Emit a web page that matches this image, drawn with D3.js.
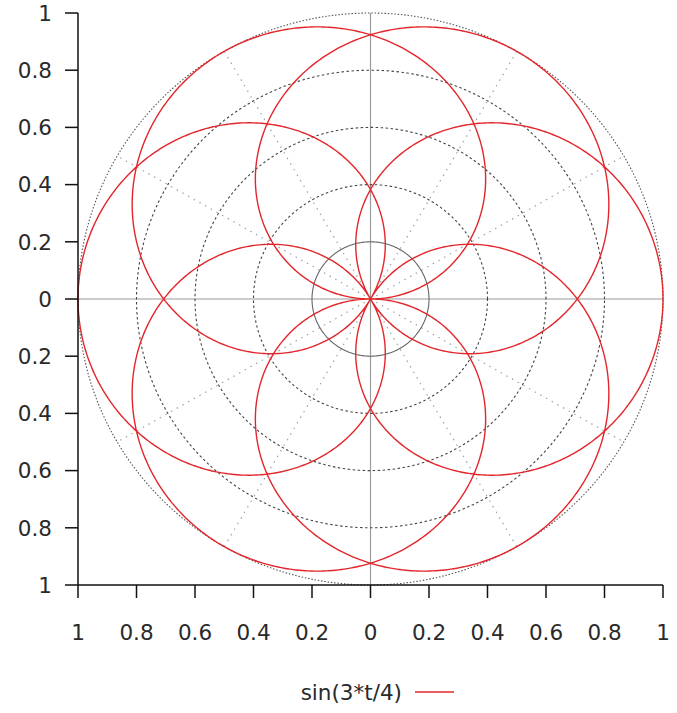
<!DOCTYPE html>
<html>
<head>
<meta charset="utf-8">
<script src="https://cdn.jsdelivr.net/npm/d3@7"></script>
<style>
  html, body { margin: 0; padding: 0; background: #fff; }
  svg { display: block; }
  text { font-family: "DejaVu Sans", Verdana, sans-serif; fill: #2a2a2a; }
</style>
</head>
<body>
<svg id="chart" width="677" height="713"></svg>
<script>
// ---- data ----
const axisTicks = [-1, -0.8, -0.6, -0.4, -0.2, 0, 0.2, 0.4, 0.6, 0.8, 1];
const tickLabels = ["1", "0.8", "0.6", "0.4", "0.2", "0", "0.2", "0.4", "0.6", "0.8", "1"];
const gridRadii = [0.2, 0.4, 0.6, 0.8, 1.0];
const gridAngles = [30, 60, 120, 150, 210, 240, 300, 330];
const seriesName = "sin(3*t/4)";
const seriesFactor = [3, 4];          // r = sin(3*t/4)
const seriesTRange = [0, 8 * Math.PI]; // full period of the rose
const seriesSamples = 2400;

// ---- chart ----
const svg = d3.select("#chart");
const x = d3.scaleLinear().domain([-1, 1]).range([78, 663]);
const y = d3.scaleLinear().domain([-1, 1]).range([585, 13]);
const fontSize = 21.5;

const polar = (r, a) => [x(r * Math.cos(a)), y(r * Math.sin(a))];
const line = d3.line().x(d => d[0]).y(d => d[1]);

// center axis lines
svg.append("line").attr("x1", x(-1)).attr("x2", x(1)).attr("y1", y(0)).attr("y2", y(0))
  .attr("stroke", "#9a9a9a").attr("stroke-width", 1.2);
svg.append("line").attr("x1", x(0)).attr("x2", x(0)).attr("y1", y(-1)).attr("y2", y(1))
  .attr("stroke", "#9a9a9a").attr("stroke-width", 1.2);

// radial grid lines
gridAngles.forEach(deg => {
  const a = deg * Math.PI / 180;
  svg.append("path").attr("d", line([polar(0, a), polar(1, a)]))
    .attr("fill", "none").attr("stroke", "#9aa3a8").attr("stroke-width", 1.2)
    .attr("stroke-dasharray", "1.5,5");
});

// circular grid
const angSteps = d3.range(0, 361, 1).map(d => d * Math.PI / 180);
gridRadii.forEach((r, i) => {
  const pts = angSteps.map(a => polar(r, a));
  const p = svg.append("path").attr("d", line(pts)).attr("fill", "none").attr("stroke-width", 1.1);
  if (i === 0) p.attr("stroke", "#666");
  else if (r === 1) p.attr("stroke", "#555").attr("stroke-dasharray", "1.5,1.8");
  else p.attr("stroke", "#444").attr("stroke-dasharray", "2.5,2.5");
});

// curve
const tPts = d3.range(seriesSamples + 1).map(i => seriesTRange[0] + (seriesTRange[1] - seriesTRange[0]) * i / seriesSamples);
const curvePts = tPts.map(t => polar(Math.sin(seriesFactor[0] * t / seriesFactor[1]), t));
svg.append("path").attr("d", line(curvePts)).attr("fill", "none")
  .attr("stroke", "#e3262b").attr("stroke-width", 1.4);

// left axis
svg.append("line").attr("x1", x(-1)).attr("x2", x(-1)).attr("y1", y(-1)).attr("y2", y(1))
  .attr("stroke", "#111").attr("stroke-width", 1.5);
axisTicks.forEach((v, i) => {
  svg.append("line").attr("x1", x(-1) - 13).attr("x2", x(-1)).attr("y1", y(v)).attr("y2", y(v))
    .attr("stroke", "#111").attr("stroke-width", 1.5);
  svg.append("text").attr("x", 52).attr("y", y(v)).attr("dy", "0.36em")
    .attr("text-anchor", "end").attr("font-size", fontSize).text(tickLabels[i]);
});

// bottom axis
svg.append("line").attr("x1", x(-1)).attr("x2", x(1)).attr("y1", y(-1)).attr("y2", y(-1))
  .attr("stroke", "#111").attr("stroke-width", 1.5);
axisTicks.forEach((v, i) => {
  svg.append("line").attr("x1", x(v)).attr("x2", x(v)).attr("y1", y(-1)).attr("y2", y(-1) + 13)
    .attr("stroke", "#111").attr("stroke-width", 1.5);
  svg.append("text").attr("x", x(v)).attr("y", 632).attr("dy", "0.36em")
    .attr("text-anchor", "middle").attr("font-size", fontSize).text(tickLabels[i]);
});

// legend
svg.append("text").attr("x", 402).attr("y", 692).attr("dy", "0.36em")
  .attr("text-anchor", "end").attr("font-size", fontSize).text(seriesName);
svg.append("line").attr("x1", 415).attr("x2", 454).attr("y1", 692).attr("y2", 692)
  .attr("stroke", "#e3262b").attr("stroke-width", 1.4);
</script>
</body>
</html>
